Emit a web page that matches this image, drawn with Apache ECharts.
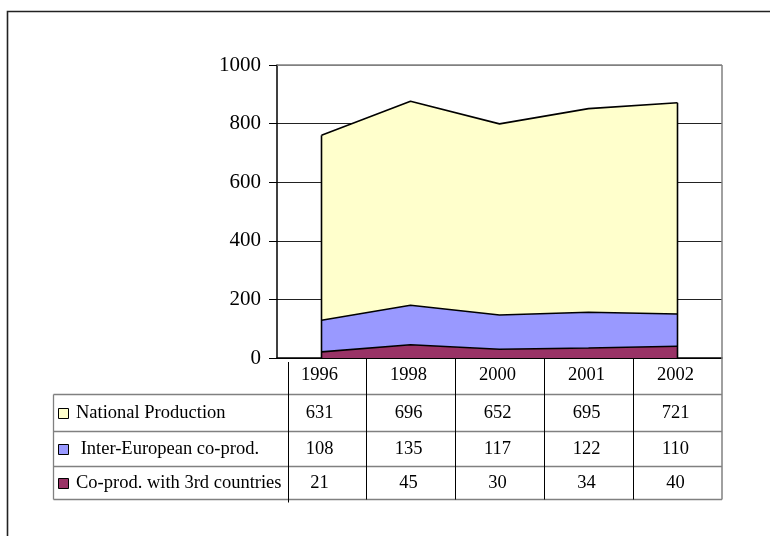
<!DOCTYPE html>
<html>
<head>
<meta charset="utf-8">
<script src="https://cdn.jsdelivr.net/npm/echarts@6/dist/echarts.min.js"></script>
<style>
  html, body { margin: 0; padding: 0; background: #fff; }
  #chart { width: 770px; height: 536px; }
</style>
</head>
<body>
<div id="chart"></div>
<script>
// Film production by type, 1996-2002
const years = ['1996', '1998', '2000', '2001', '2002'];
const nationalProduction = [631, 696, 652, 695, 721];
const interEuropean = [108, 135, 117, 122, 110];
const thirdCountries = [21, 45, 30, 34, 40];
const yTicks = [0, 200, 400, 600, 800, 1000];

// Table rows, top to bottom
const rowLabels = ['National Production', ' Inter-European co-prod.', 'Co-prod. with 3rd countries'];
const rowValues = [nationalProduction, interEuropean, thirdCountries];
const rowColors = ['#FFFFCC', '#9999FF', '#993366'];

const serif = "'Liberation Serif', 'Times New Roman', serif";
const chart = echarts.init(document.getElementById('chart'), null, { renderer: 'canvas' });

// Stack from the bottom up: 3rd countries, inter-European, national
const stackOrder = [2, 1, 0];

chart.setOption({
  animation: false,
  backgroundColor: '#fff',
  grid: { left: 277, right: 48, top: 65, bottom: 178 },
  xAxis: {
    type: 'category',
    data: years,
    boundaryGap: true,
    axisLine: { show: true, lineStyle: { color: '#000', width: 1.5 } },
    axisTick: { show: false },
    axisLabel: { show: false },
    splitLine: { show: false }
  },
  yAxis: {
    type: 'value',
    min: yTicks[0],
    max: yTicks[yTicks.length - 1],
    interval: yTicks[1] - yTicks[0],
    axisLine: { show: true, lineStyle: { color: '#000', width: 1.5 } },
    axisTick: { show: true, length: 8, lineStyle: { color: '#000', width: 1 } },
    axisLabel: {
      margin: 16, fontFamily: serif, fontSize: 21, color: '#000',
      formatter: function (v) { return String(v); }
    },
    splitLine: {
      show: true,
      lineStyle: { color: ['#000', '#222', '#222', '#222', '#222', '#808080'], width: 1 }
    }
  },
  series: stackOrder.map(function (r) {
    return {
      type: 'line',
      name: rowLabels[r].trim(),
      stack: 'total',
      data: rowValues[r],
      symbol: 'none',
      lineStyle: { color: '#000', width: 1.6 },
      areaStyle: { color: rowColors[r], opacity: 1 }
    };
  })
});

// Data table and frame drawn under the plot, aligned to the category axis
function buildGraphics() {
  const px = function (i, v) { return chart.convertToPixel({ gridIndex: 0 }, [i, v]); };
  const n = years.length;
  const band = px(1, 0)[0] - px(0, 0)[0];
  const yZero = px(0, 0)[1];
  const yTop = px(0, yTicks[yTicks.length - 1])[1];
  const plotLeft = px(0, 0)[0] - band / 2;
  const plotRight = px(n - 1, 0)[0] + band / 2;

  const tableLeft = 53.5;
  const labelRight = 288.5;
  const rowLines = [394.5, 431.5, 466.5, 499.5];
  const headerMid = 375;

  const els = [];
  const line = function (x1, y1, x2, y2, stroke, w) {
    els.push({ type: 'line', silent: true, z: 100,
      shape: { x1: x1, y1: y1, x2: x2, y2: y2 },
      style: { stroke: stroke, lineWidth: w } });
  };
  const text = function (x, y, s, align) {
    els.push({ type: 'text', silent: true, z: 100, x: x, y: y,
      style: { text: s, fontFamily: serif, fontSize: 18.5, fill: '#000',
        align: align, verticalAlign: 'middle' } });
  };

  // outer frame
  els.push({ type: 'rect', silent: true, z: 100,
    shape: { x: 7.5, y: 11.5, width: 820, height: 600 },
    style: { fill: 'none', stroke: '#222', lineWidth: 1.6 } });

  // plot border (top and right)
  line(plotLeft, yTop, plotRight, yTop, '#808080', 1.5);
  line(plotRight, yTop, plotRight, rowLines[3], '#808080', 1.5);

  // vertical edges of the stacked area
  const total = function (i) { return nationalProduction[i] + interEuropean[i] + thirdCountries[i]; };
  [0, n - 1].forEach(function (i) {
    const a = px(i, total(i)), b = px(i, 0);
    line(a[0], a[1], b[0], b[1], '#000', 1.6);
  });

  // table grid
  rowLines.forEach(function (y) { line(tableLeft, y, plotRight, y, '#808080', 1.3); });
  line(tableLeft, rowLines[0], tableLeft, rowLines[3], '#808080', 1.3);
  line(labelRight, yZero + 4, labelRight, rowLines[3] + 3, '#000', 1);
  for (let i = 1; i < n; i++) {
    const x = Math.round(px(i, 0)[0] - band / 2) + 0.5;
    line(x, yZero, x, rowLines[3], '#000', 1);
  }

  // year headers and values
  years.forEach(function (yr, i) {
    const cx = px(i, 0)[0] - 2;
    text(cx, headerMid, yr, 'center');
    rowValues.forEach(function (vals, r) {
      const cy = (rowLines[r] + rowLines[r + 1]) / 2;
      text(cx, cy, String(vals[i]), 'center');
    });
  });

  // row labels with colour keys
  rowLabels.forEach(function (lab, r) {
    const cy = (rowLines[r] + rowLines[r + 1]) / 2;
    els.push({ type: 'rect', silent: true, z: 100,
      shape: { x: 58.5, y: Math.round(cy - 5) + 0.5, width: 10, height: 10 },
      style: { fill: rowColors[r], stroke: '#000', lineWidth: 1 } });
    text(76, cy, lab, 'left');
  });

  chart.setOption({ graphic: { elements: els } });
}
buildGraphics();
</script>
</body>
</html>
